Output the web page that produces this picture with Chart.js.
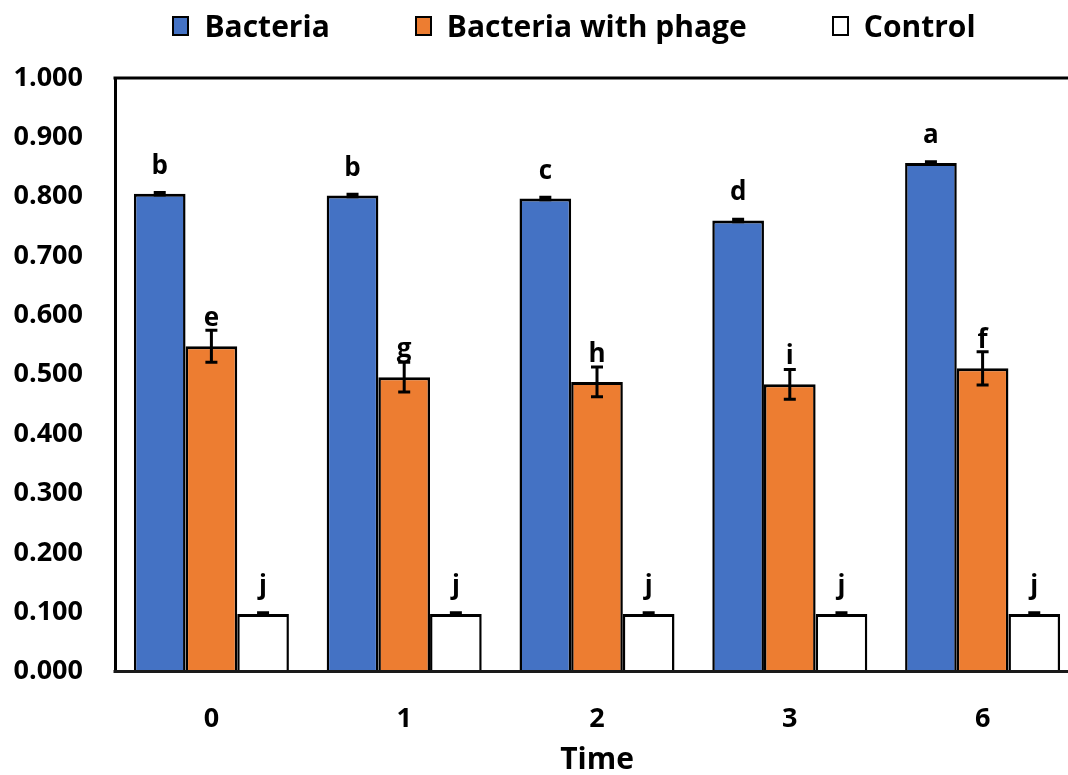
<!DOCTYPE html>
<html><head><meta charset="utf-8">
<script src="https://cdn.jsdelivr.net/npm/chart.js@4"></script>
<style>
html,body{margin:0;padding:0;overflow:hidden;background:#fff;width:1068px;height:775px}
#wrap{position:absolute;left:0;top:0;width:1090px;height:775px}
#legend{position:absolute;left:0;top:5px;width:1148px;display:flex;justify-content:center;gap:85px;font-family:"Open Sans",sans-serif;font-weight:700;font-size:30px;color:#000;z-index:2}
.item{display:flex;align-items:center}
.box{width:13px;height:16px;border:2.5px solid #000;margin-right:15px}
</style>
</head><body>
<div id="wrap"><canvas id="c"></canvas></div>
<div id="legend"></div>
<script>
const categories = ['0','1','2','3','6'];
const seriesNames = ['Bacteria','Bacteria with phage','Control'];
const bacteria = [0.805, 0.802, 0.797, 0.760, 0.857];
const bacteriaErr = [0.002, 0.002, 0.002, 0.002, 0.002];
const bacteriaLetters = ['b','b','c','d','a'];
const phage = [0.548, 0.496, 0.488, 0.484, 0.511];
const phageErr = [0.027, 0.025, 0.025, 0.025, 0.028];
const phageLetters = ['e','g','h','i','f'];
const control = [0.097, 0.097, 0.097, 0.097, 0.097];
const controlErr = [0.002, 0.002, 0.002, 0.002, 0.002];
const controlLetters = ['j','j','j','j','j'];
const colors = ['#4472C4', '#ED7D31', '#FFFFFF'];
const yTicks = [0,0.1,0.2,0.3,0.4,0.5,0.6,0.7,0.8,0.9,1.0];

const FONT = '"Open Sans", sans-serif';

// HTML legend
const lg = document.getElementById('legend');
seriesNames.forEach((n,i)=>{
  const it = document.createElement('div'); it.className='item';
  const b = document.createElement('div'); b.className='box'; b.style.background=colors[i];
  const t = document.createElement('span'); t.textContent = n;
  it.appendChild(b); it.appendChild(t); lg.appendChild(it);
});

const errs = [bacteriaErr, phageErr, controlErr];
const letters = [bacteriaLetters, phageLetters, controlLetters];

const annotPlugin = {
  id: 'annot',
  afterDatasetsDraw(chart) {
    const ctx = chart.ctx;
    const ys = chart.scales.y;
    chart.data.datasets.forEach((ds, di) => {
      const meta = chart.getDatasetMeta(di);
      meta.data.forEach((el, i) => {
        const v = ds.data[i], e = errs[di][i];
        const yt = ys.getPixelForValue(v + e), yb = ys.getPixelForValue(v - e);
        ctx.save();
        ctx.strokeStyle = '#000'; ctx.lineWidth = 3;
        ctx.beginPath();
        ctx.moveTo(el.x, yt); ctx.lineTo(el.x, yb);
        ctx.moveTo(el.x - 6, yt); ctx.lineTo(el.x + 6, yt);
        ctx.moveTo(el.x - 6, yb); ctx.lineTo(el.x + 6, yb);
        ctx.stroke();
        ctx.fillStyle = '#000';
        ctx.font = 'bold 26px ' + FONT;
        ctx.textAlign = 'center'; ctx.textBaseline = 'alphabetic';
        ctx.fillText(letters[di][i], el.x, el.y - 20);
        ctx.restore();
      });
    });
    const a = chart.chartArea;
    ctx.save();
    ctx.strokeStyle = '#000'; ctx.lineWidth = 3;
    ctx.beginPath(); ctx.moveTo(a.left - 1.5, a.top); ctx.lineTo(a.right + 2, a.top); ctx.stroke();
    ctx.beginPath(); ctx.moveTo(a.right, a.top); ctx.lineTo(a.right, a.bottom); ctx.stroke();
    ctx.strokeStyle = '#1a1a1a';
    ctx.beginPath(); ctx.moveTo(a.left - 1.5, a.bottom); ctx.lineTo(a.right + 2, a.bottom); ctx.stroke();
    ctx.restore();
  }
};

const bw = {top: 3, left: 2.5, right: 2.5, bottom: 0};
new Chart(document.getElementById('c'), {
  type: 'bar',
  data: {
    labels: categories,
    datasets: [
      {label: seriesNames[0], data: bacteria, backgroundColor: colors[0], borderColor: '#000', borderWidth: bw, borderSkipped: false},
      {label: seriesNames[1], data: phage, backgroundColor: colors[1], borderColor: '#000', borderWidth: bw, borderSkipped: false},
      {label: seriesNames[2], data: control, backgroundColor: colors[2], borderColor: '#000', borderWidth: bw, borderSkipped: false}
    ]
  },
  options: {
    responsive: true, maintainAspectRatio: false, animation: false,
    devicePixelRatio: 1,
    categoryPercentage: 0.804, barPercentage: 1.0,
    layout: {padding: {top: 78, right: 11, left: 0, bottom: 0}},
    plugins: {legend: {display: false}, tooltip: {enabled: false}},
    scales: {
      x: {
        grid: {display: false, drawTicks: false},
        border: {display: true, color: '#1a1a1a', width: 3},
        ticks: {color: '#000', font: {family: FONT, weight: 'bold', size: 27}, padding: 32},
        title: {display: true, text: 'Time', color: '#000', font: {family: FONT, weight: 'bold', size: 30, lineHeight: 1.0}, padding: {top: -23, bottom: 0}}
      },
      y: {
        min: 0, max: 1,
        afterBuildTicks(s) { s.ticks = yTicks.map(v => ({value: v})); },
        afterFit(s) { s.width = 115; },
        grid: {display: false, drawTicks: false},
        border: {display: true, color: '#000', width: 3},
        ticks: {color: '#000', font: {family: FONT, weight: 'bold', size: 27}, padding: 32,
          callback: v => Number(v).toFixed(3)}
      }
    }
  },
  plugins: [annotPlugin]
});
</script>
</body></html>
